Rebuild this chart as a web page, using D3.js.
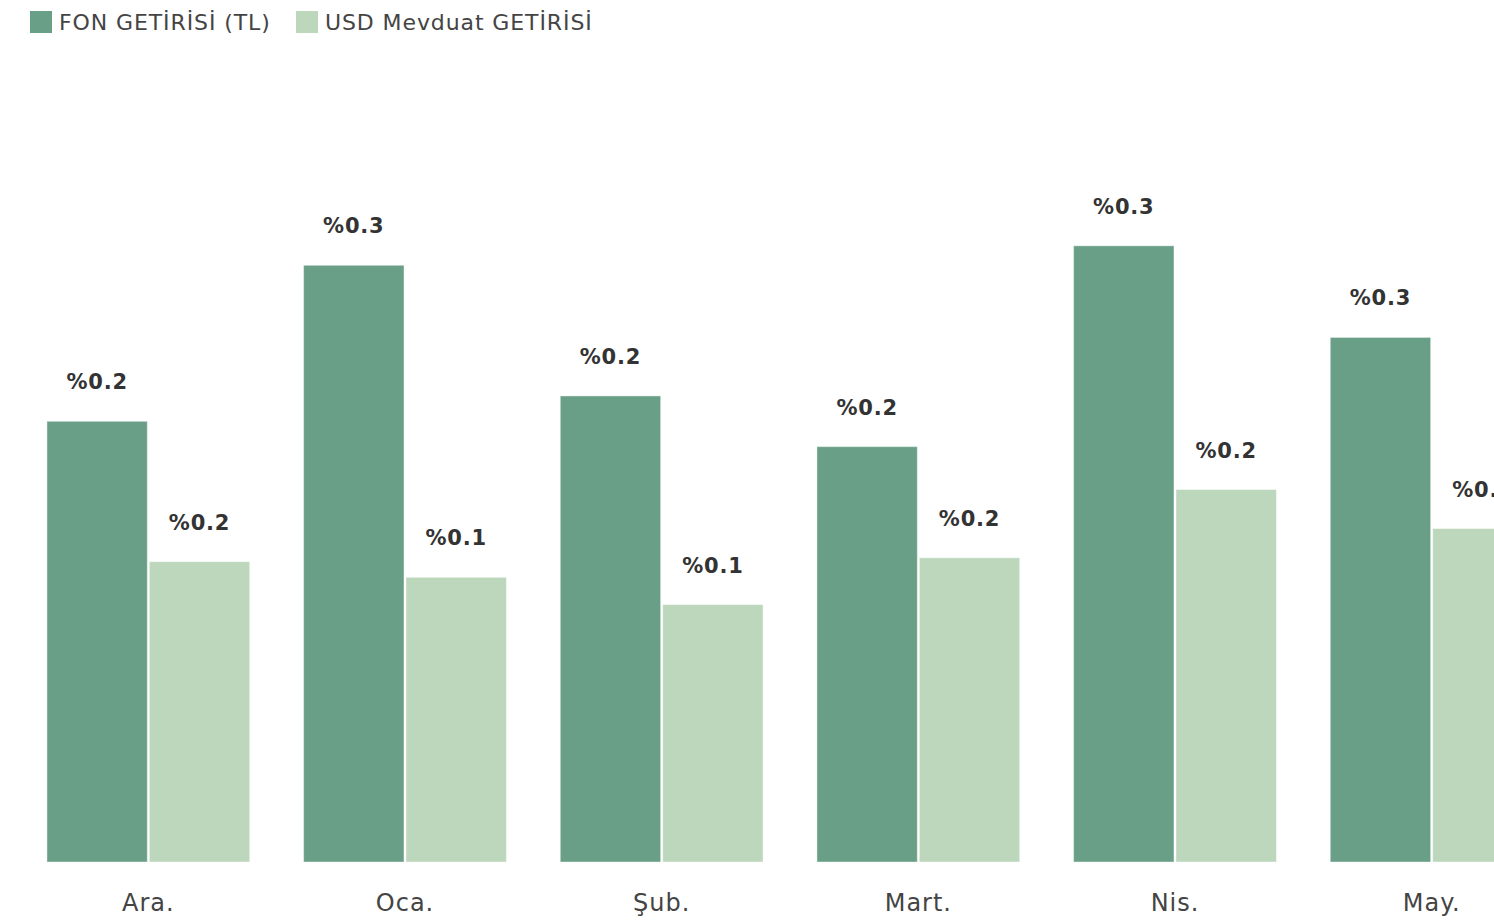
<!DOCTYPE html>
<html><head><meta charset="utf-8">
<script src="https://cdn.jsdelivr.net/npm/d3@7"></script>
<style>
html,body{margin:0;padding:0;background:#fff;overflow:hidden;}
svg{display:block;}
</style></head>
<body><svg id="chart" width="1494" height="920"></svg>
<script>
const categories = ["Ara.", "Oca.", "Şub.", "Mart.", "Nis.", "May."];
const seriesNames = ["FON GETİRİSİ (TL)", "USD Mevduat GETİRİSİ"];
const fonValues = [0.226, 0.306, 0.239, 0.213, 0.316, 0.269];
const usdValues = [0.154, 0.146, 0.132, 0.156, 0.191, 0.171];
const colors = ["#6a9f87", "#bcd7bb"];

const font = "'DejaVu Sans', sans-serif";
const svg = d3.select("#chart");
const baseY = 862;

const x0 = d3.scaleBand().domain(categories).range([20, 1560]).paddingInner(0.21).paddingOuter(0.105);
const x1 = d3.scaleBand().domain(seriesNames).range([0, x0.bandwidth()]).paddingInner(0.02);
const y = d3.scaleLinear().domain([0, 0.4]).range([baseY, baseY - 0.4 * 1950]);

const data = categories.map((c, i) => ({cat: c, vals: [
  {s: seriesNames[0], v: fonValues[i], c: colors[0]},
  {s: seriesNames[1], v: usdValues[i], c: colors[1]}
]}));

const g = svg.append("g");
const groups = g.selectAll("g.grp").data(data).join("g")
  .attr("transform", d => `translate(${x0(d.cat)},0)`);

groups.selectAll("rect").data(d => d.vals).join("rect")
  .attr("x", d => x1(d.s))
  .attr("width", x1.bandwidth())
  .attr("y", d => y(d.v))
  .attr("height", d => baseY - y(d.v))
  .attr("fill", d => d.c)
  .attr("stroke", "#ffffff").attr("stroke-opacity", 0.4).attr("stroke-width", 1);

const fmt = d3.format(".1f");
groups.selectAll("text.val").data(d => d.vals).join("text")
  .attr("class", "val")
  .attr("x", d => x1(d.s) + x1.bandwidth() / 2)
  .attr("y", d => y(d.v) - 32)
  .attr("text-anchor", "middle")
  .attr("font-family", font).attr("font-weight", "bold").attr("font-size", 21)
  .attr("letter-spacing", 0.8)
  .attr("fill", "#333")
  .text(d => "%" + fmt(d.v));

// x axis labels
const xAxis = d3.axisBottom(x0).tickSize(0).tickPadding(0);
const ax = svg.append("g").attr("transform", `translate(0,${baseY})`).call(xAxis);
ax.select(".domain").remove();
ax.selectAll("text").attr("font-family", font).attr("font-size", 24).attr("fill", "#444")
  .attr("letter-spacing", 1).attr("dy", "1.05em").attr("y", 24);

// legend
const leg = svg.append("g").attr("transform", "translate(30,11)");
const legX = [0, 266];
seriesNames.forEach((s, i) => {
  const li = leg.append("g").attr("transform", `translate(${legX[i]},0)`);
  li.append("rect").attr("width", 22).attr("height", 22).attr("fill", colors[i]);
  li.append("text").attr("x", 29).attr("y", 19).attr("font-family", font).attr("font-size", 22)
    .attr("letter-spacing", 0.9).attr("fill", "#444").text(s);
});
</script></body></html>
